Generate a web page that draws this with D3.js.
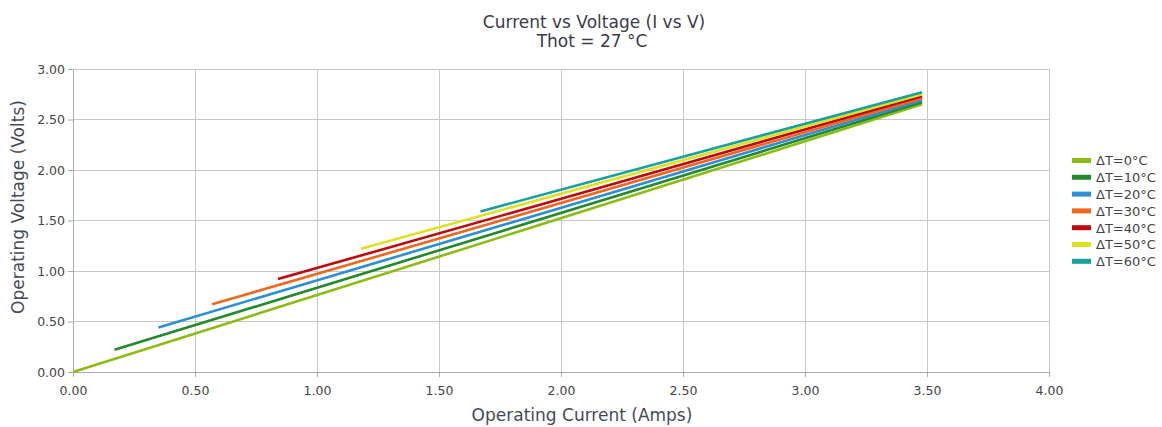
<!DOCTYPE html>
<html><head><meta charset="utf-8">
<script src="https://cdn.jsdelivr.net/npm/d3@7"></script>
<style>body{margin:0;background:#fff;} text{font-family:"DejaVu Sans",sans-serif;}</style>
</head><body><svg id="c" width="1162" height="427"></svg>
<script>
const seriesNames = ["ΔT=0°C","ΔT=10°C","ΔT=20°C","ΔT=30°C","ΔT=40°C","ΔT=50°C","ΔT=60°C"];
const colors = ["#8cbc14","#23892d","#2b8fd6","#f0661c","#c0080f","#dce21e","#17a09c"];
const startCurrent = [0.00,0.17,0.35,0.57,0.84,1.18,1.67];
const startVoltage = [0.00,0.22,0.44,0.67,0.92,1.22,1.59];
const endCurrent = [3.48,3.48,3.48,3.48,3.48,3.48,3.48];
const endVoltage = [2.65,2.67,2.69,2.71,2.73,2.75,2.77];
const xTicks = [0,0.5,1,1.5,2,2.5,3,3.5,4];
const yTicks = [0,0.5,1,1.5,2,2.5,3];

const svg = d3.select("#c");
const L=73,R=1049,T=69,B=372;
const x = d3.scaleLinear().domain([0,4]).range([L,R]);
const y = d3.scaleLinear().domain([0,3]).range([B,T]);

// grid
svg.append("g").selectAll("line").data(xTicks).join("line")
  .attr("x1",d=>x(d)).attr("x2",d=>x(d)).attr("y1",T).attr("y2",B)
  .attr("stroke","#c8c8c8").attr("stroke-width",1).attr("shape-rendering","crispEdges");
svg.append("g").selectAll("line").data(yTicks).join("line")
  .attr("x1",L).attr("x2",R).attr("y1",d=>y(d)).attr("y2",d=>y(d))
  .attr("stroke","#c8c8c8").attr("stroke-width",1).attr("shape-rendering","crispEdges");

const xa = svg.append("g").attr("transform",`translate(0,${B})`)
  .call(d3.axisBottom(x).tickValues(xTicks).tickFormat(d3.format(".2f")).tickSize(5).tickSizeOuter(0));
const ya = svg.append("g").attr("transform",`translate(${L},0)`)
  .call(d3.axisLeft(y).tickValues(yTicks).tickFormat(d3.format(".2f")).tickSize(5).tickSizeOuter(0));
[xa,ya].forEach(a=>{
  a.select(".domain").attr("stroke","#aaa");
  a.selectAll(".tick line").attr("stroke","#aaa");
  a.selectAll("text").attr("fill","#444").style("font-size","12.5px").style("font-family","DejaVu Sans");
});
xa.selectAll("text").attr("dy","1.2em");

// lines
const data = seriesNames.map((n,i)=>({name:n,color:colors[i],pts:[[startCurrent[i],startVoltage[i]],[endCurrent[i],endVoltage[i]]]}));
const line = d3.line().x(d=>x(d[0])).y(d=>y(d[1]));
svg.append("g").selectAll("path").data(data).join("path")
  .attr("d",d=>line(d.pts)).attr("fill","none").attr("stroke",d=>d.color).attr("stroke-width",2.6);

// titles
svg.append("text").attr("x",594).attr("y",27.5).attr("text-anchor","middle")
  .style("font-size","17px").attr("fill","#3a3a4a").text("Current vs Voltage (I vs V)");
svg.append("text").attr("x",592).attr("y",46.5).attr("text-anchor","middle")
  .style("font-size","17px").attr("fill","#3a3a4a").text("Thot = 27 °C");
svg.append("text").attr("x",582).attr("y",421).attr("text-anchor","middle")
  .style("font-size","17px").attr("fill","#444a5a").text("Operating Current (Amps)");
svg.append("text").attr("transform","translate(24,207) rotate(-90)").attr("text-anchor","middle")
  .style("font-size","17px").attr("fill","#444a5a").text("Operating Voltage (Volts)");

// legend
const lg = svg.append("g").attr("transform","translate(1072,160.5)");
const items = lg.selectAll("g").data(data).join("g").attr("transform",(d,i)=>`translate(0,${i*16.8})`);
items.append("rect").attr("x",0).attr("y",-2.5).attr("width",19).attr("height",5).attr("fill",d=>d.color);
items.append("text").attr("x",24).attr("y",4.8).style("font-size","13px").attr("fill","#444").text(d=>d.name);
</script></body></html>
